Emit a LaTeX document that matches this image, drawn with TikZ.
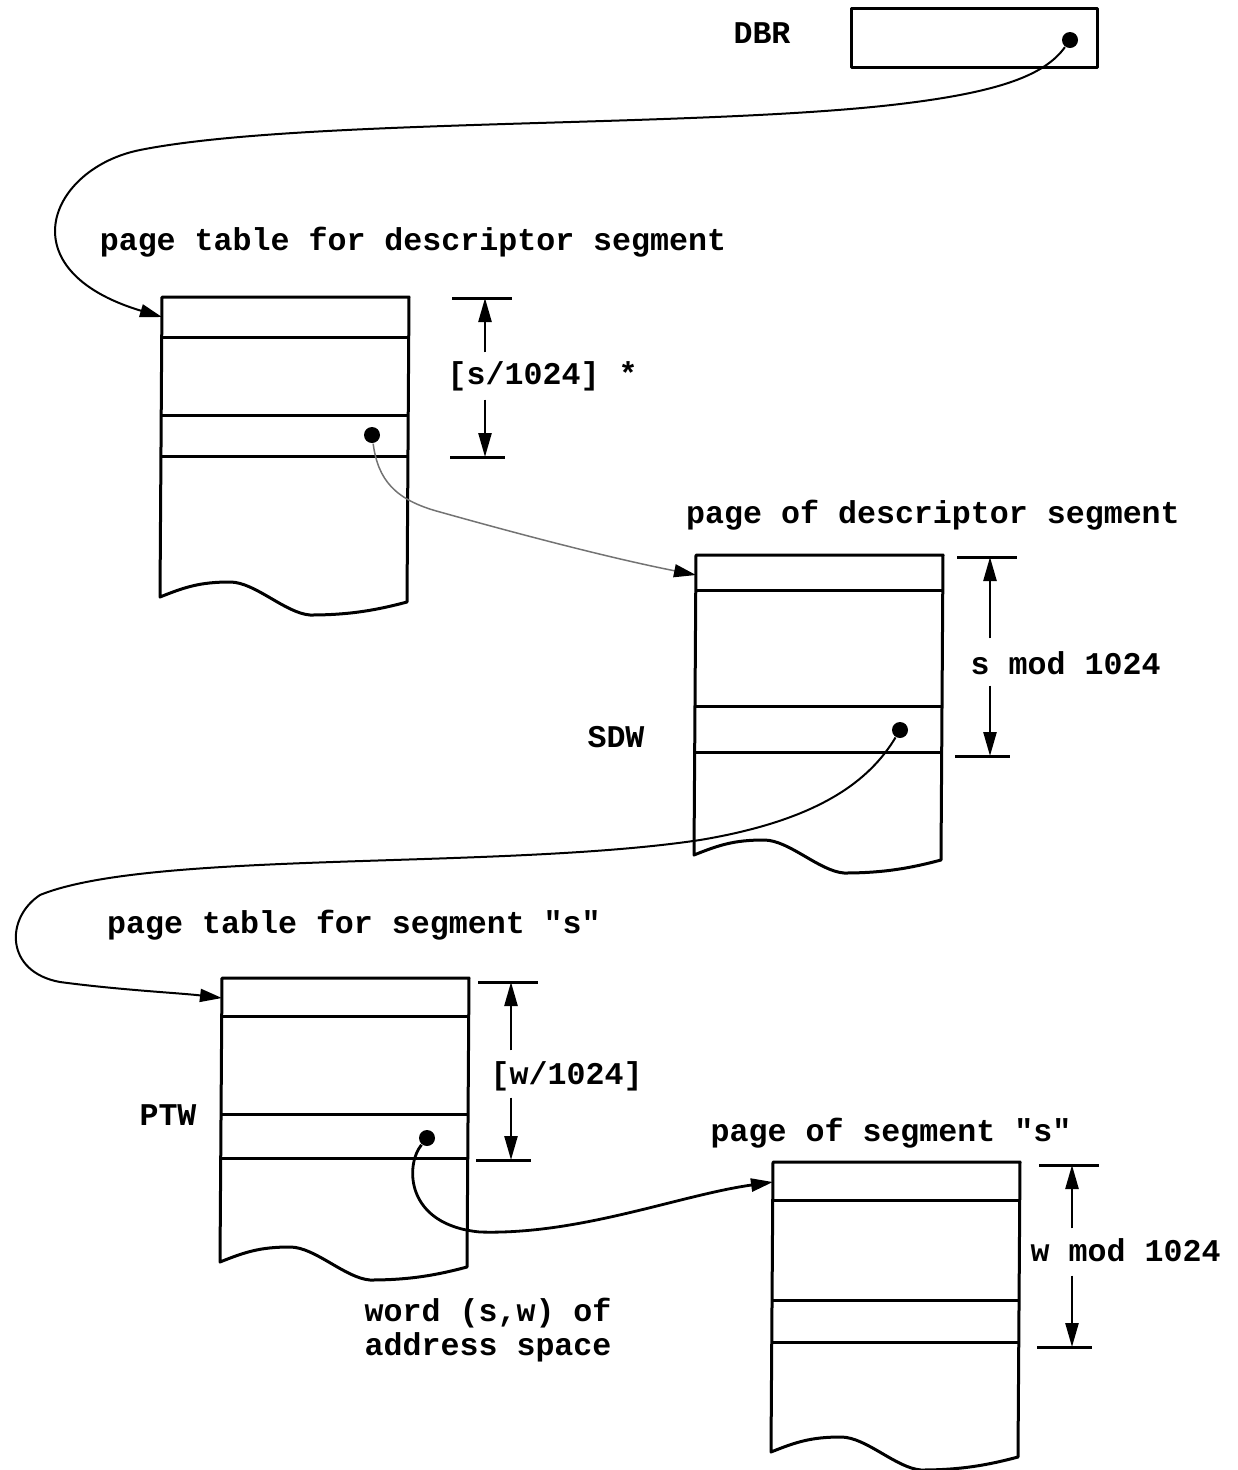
\documentclass[tikz,border=0pt]{standalone}
\usepackage{fontspec}
\setmonofont{Liberation Mono}
\usetikzlibrary{arrows.meta}

\begin{document}
\begin{tikzpicture}[
  x=0.1mm, y=-0.1mm,
  lbl/.style={font=\fontsize{9pt}{9.7pt}\selectfont\ttfamily\bfseries, inner sep=0pt},
  boxline/.style={draw=black, line width=0.3mm, line join=round},
  dimgap/.style={inner sep=0pt, minimum width=0pt, minimum height=4.6mm},
  dimarrow/.style={draw=black, line width=0.25mm, -{Triangle[length=2.4mm,width=1.3mm]}},
  link/.style={draw=black, line width=0.2mm, -{Triangle[length=2.2mm,width=1.3mm,color=black]}},
  faint/.style={draw=black!55, line width=0.15mm},
  dotnode/.style={circle, fill=black, inner sep=0pt, minimum size=1.6mm}
  ]
  \useasboundingbox (0,0) rectangle (1238,1470);

  % descriptor base register
  \node[boxline, minimum width=24.6mm, minimum height=5.9mm, inner sep=0pt] (dbr) at (974,38) {};
  \node[lbl] (dbrlab) at (762,33) {DBR};
  \node[dotnode] (dbrdot) at (1070,40) {};

  % the four tables, torn off at the bottom
  \foreach \nm/\x/\y/\ra/\rb/\rc/\h in {ptd/162/297/40/118/159/300, pds/696/555/35/151/197/300, pts/222/978/38/136/180/284, pgs/773/1162/38/138/180/290}{
    \coordinate (\nm) at (\x,\y);
    \draw[boxline] (\nm) ++(-2,\h) .. controls +(25,-10) and +(-30,0) .. ++(70,-15)
      .. controls +(25,0) and +(-25,-2) .. ++(80,33)
      .. controls +(40,0) and +(-30,8) .. ++(97,-13)
      -- ++(2,-\h-5) -- (\nm) -- cycle;
    \foreach \r in {\ra,\rb,\rc}
      \draw[boxline] (\nm) ++(0,\r) -- ++(246,0);
    \path (\nm) ++(0,20) coordinate (\nm-in);
  }

  % extents
  \foreach \nm/\x/\yt/\yb/\ym in {ptd/485/298/457/376, pds/990/557/756/662, pts/511/982/1160/1074, pgs/1072/1165/1347/1252}{
    \coordinate (\nm-top) at (\x,\yt);
    \coordinate (\nm-bot) at (\x,\yb);
    \node[dimgap] (\nm-mid) at (\x,\ym) {};
    \draw[boxline] (\nm-top) ++(-33,0) -- ++(60,0);
    \draw[boxline] (\nm-bot) ++(-35,0) -- ++(55,0);
    \draw[dimarrow] (\nm-mid.north) -- (\nm-top);
    \draw[dimarrow] (\nm-mid.south) -- (\nm-bot);
  }

  \node[lbl] (ptdlab) at (413,242) {page table for descriptor segment};
  \node[lbl, anchor=west] (ptddim) at (447,376) {[s/1024] *};
  \node[lbl] (pdslab) at (933,515) {page of descriptor segment};
  \node[lbl, anchor=west] (pdsdim) at (970,663) {s mod 1024};
  \node[lbl] (sdw) at (616,737) {SDW};
  \node[lbl] (ptslab) at (354,925) {page table for segment "s"};
  \node[lbl, anchor=west] (ptsdim) at (490,1076) {[w/1024]};
  \node[lbl] (ptw) at (168,1115) {PTW};
  \node[lbl] (pgslab) at (891,1133) {page of segment "s"};
  \node[lbl, anchor=west] (pgsdim) at (1030,1250) {w mod 1024};
  \node[lbl, anchor=west, align=left] (word) at (364,1330) {word (s,w) of\\address space};

  \node[dotnode] (ptddot) at (372,435) {};
  \node[dotnode] (pdsdot) at (900,730) {};
  \node[dotnode] (ptsdot) at (427,1138) {};

  % pointers
  \draw[link] (dbrdot) .. controls (1045,75) and (1000,92) .. (900,104)
    .. controls (700,128) and (300,118) .. (140,150)
    .. controls (50,168) and (5,270) .. (ptd-in);
  \draw[link, faint] (ptddot) .. controls (378,480) and (395,500) .. (440,512)
    .. controls (540,540) and (620,560) .. (pds-in);
  \draw[link] (pdsdot) .. controls (870,780) and (820,820) .. (700,840)
    .. controls (500,870) and (150,850) .. (40,895)
    .. controls (5,918) and (5,972) .. (60,982)
    .. controls (120,990) and (180,993) .. (pts-in);
  \draw[link, line width=0.28mm] (ptsdot) .. controls (405,1165) and (405,1225) .. (480,1232)
    .. controls (580,1235) and (680,1195) .. (pgs-in);
\end{tikzpicture}
\end{document}
